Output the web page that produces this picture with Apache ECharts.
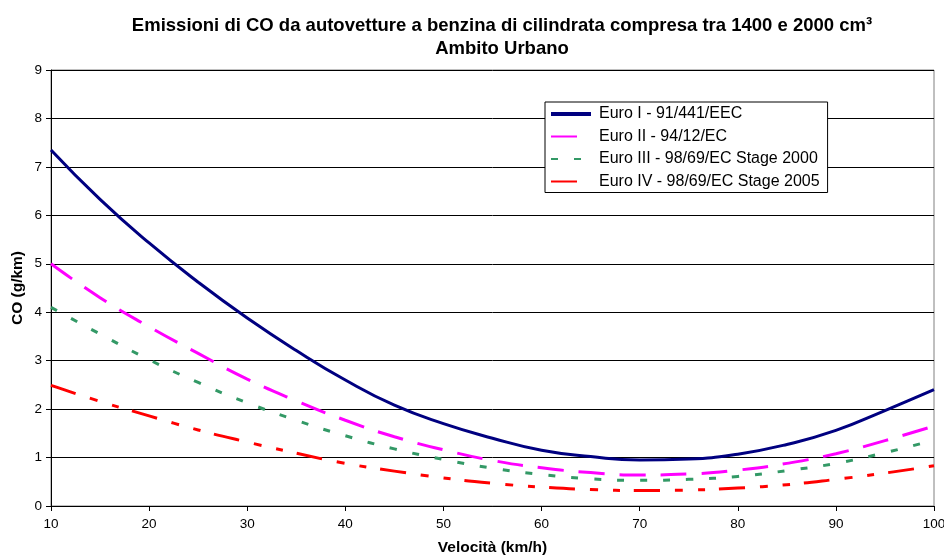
<!DOCTYPE html>
<html>
<head>
<meta charset="utf-8">
<script src="https://cdn.jsdelivr.net/npm/echarts@6/dist/echarts.min.js"></script>
<style>
  html, body { margin: 0; padding: 0; background: #fff; }
  #chart { width: 944px; height: 557px; }
</style>
</head>
<body>
<div id="chart"></div>
<script>
// Speeds (km/h) at which the emission curves are sampled
const speeds = [10, 15, 20, 25, 30, 35, 40, 45, 50, 55, 60, 65, 70, 75, 80, 85, 90, 95, 100];

// CO emissions (g/km) for each emission standard
const euroI   = [7.35, 6.33, 5.43, 4.62, 3.88, 3.21, 2.60, 2.08, 1.70, 1.40, 1.15, 1.02, 0.95, 0.97, 1.07, 1.27, 1.56, 1.97, 2.40];
const euroII  = [5.00, 4.30, 3.70, 3.15, 2.62, 2.17, 1.77, 1.43, 1.16, 0.94, 0.79, 0.69, 0.64, 0.66, 0.74, 0.88, 1.08, 1.35, 1.65];
const euroIII = [4.10, 3.55, 3.02, 2.55, 2.13, 1.77, 1.45, 1.18, 0.96, 0.78, 0.65, 0.56, 0.53, 0.55, 0.61, 0.73, 0.88, 1.10, 1.36];
const euroIV  = [2.49, 2.16, 1.86, 1.57, 1.32, 1.09, 0.88, 0.72, 0.58, 0.47, 0.39, 0.34, 0.32, 0.33, 0.37, 0.44, 0.55, 0.68, 0.83];

const seriesNames = [
  'Euro I - 91/441/EEC',
  'Euro II - 94/12/EC',
  'Euro III - 98/69/EC Stage 2000',
  'Euro IV - 98/69/EC Stage 2005'
];

const xTicks = [10, 20, 30, 40, 50, 60, 70, 80, 90, 100];
const yTicks = [0, 1, 2, 3, 4, 5, 6, 7, 8, 9];

const pairs = vals => speeds.map((s, i) => [s, vals[i]]);

const font = 'Arial, "Liberation Sans", sans-serif';

const styles = [
  { color: '#000080', type: 'solid' },
  { color: '#FF00FF', type: [26, 15] },
  { color: '#339966', type: [7, 16] },
  { color: '#FF0000', type: [26, 15, 8, 15, 7, 14] }
];

const allValues = [euroI, euroII, euroIII, euroIV];

const chart = echarts.init(document.getElementById('chart'), null, { renderer: 'canvas' });

chart.setOption({
  backgroundColor: '#ffffff',
  animation: false,
  title: {
    text: 'Emissioni di CO da autovetture a benzina di cilindrata compresa tra 1400 e 2000 cm³\nAmbito Urbano',
    left: 497,
    top: 9,
    textAlign: 'center',
    textStyle: {
      fontFamily: font,
      fontSize: 18.5,
      fontWeight: 'bold',
      color: '#000',
      lineHeight: 23.5
    }
  },
  legend: {
    orient: 'vertical',
    left: 545,
    top: 102,
    padding: [4, 8, 3, 4],
    itemGap: 6.5,
    itemWidth: 40,
    itemHeight: 16,
    backgroundColor: '#fff',
    borderColor: '#000',
    borderWidth: 1,
    borderRadius: 0,
    itemStyle: { opacity: 0 },
    textStyle: { fontFamily: font, fontSize: 16, lineHeight: 16, color: '#000', padding: [0, 0, 0, 3] },
    data: seriesNames.map((name, i) => i === 0 ? { name: name, lineStyle: { width: 4 } } : { name: name })
  },
  grid: {
    left: 51,
    right: 10,
    top: 70,
    bottom: 51,
    outerBoundsMode: 'none',
    containLabel: false,
    show: true,
    borderColor: '#808080',
    borderWidth: 1,
    backgroundColor: 'transparent'
  },
  xAxis: {
    type: 'value',
    min: xTicks[0],
    max: xTicks[xTicks.length - 1],
    interval: 10,
    name: 'Velocità (km/h)',
    nameLocation: 'middle',
    nameGap: 34,
    nameMoveOverlap: false,
    nameTextStyle: { fontFamily: font, fontSize: 15.5, fontWeight: 'bold', color: '#000' },
    axisLine: { show: true, lineStyle: { color: '#000', width: 1 } },
    axisTick: { show: true, length: 5, inside: false, lineStyle: { color: '#000' } },
    axisLabel: { fontFamily: font, fontSize: 13.5, color: '#000', margin: 11 },
    splitLine: { show: false }
  },
  yAxis: {
    type: 'value',
    min: yTicks[0],
    max: yTicks[yTicks.length - 1],
    interval: 1,
    name: 'CO (g/km)',
    nameLocation: 'middle',
    nameGap: 25,
    nameMoveOverlap: false,
    nameRotate: 90,
    nameTextStyle: { fontFamily: font, fontSize: 15.5, fontWeight: 'bold', color: '#000' },
    axisLine: { show: true, lineStyle: { color: '#000', width: 1 } },
    axisTick: { show: true, length: 5, inside: false, lineStyle: { color: '#000' } },
    axisLabel: { fontFamily: font, fontSize: 13.5, color: '#000', margin: 9 },
    splitLine: { show: true, lineStyle: { color: '#000', width: 1 } }
  },
  series: seriesNames.map((name, i) => ({
    name: name,
    type: 'line',
    smooth: 0.5,
    symbol: 'none',
    data: pairs(allValues[i]),
    itemStyle: { color: styles[i].color },
    lineStyle: { color: styles[i].color, width: 3, type: styles[i].type, cap: 'butt' },
    z: 10 - i
  }))
});
</script>
</body>
</html>
